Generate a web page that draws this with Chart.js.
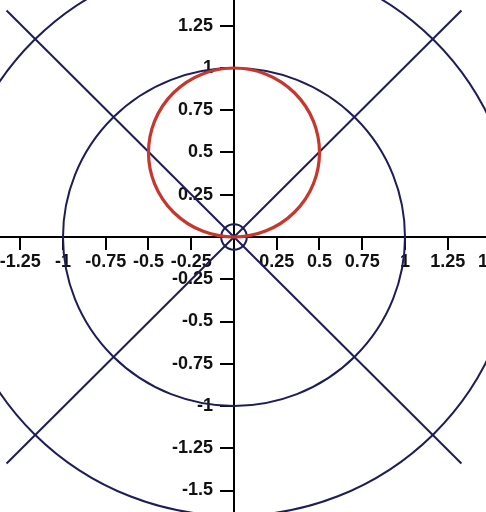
<!DOCTYPE html>
<html>
<head>
<meta charset="utf-8">
<script src="https://cdn.jsdelivr.net/npm/chart.js@4/dist/chart.umd.min.js"></script>
<style>
  html, body { margin: 0; padding: 0; background: #fff; }
  #wrap { position: relative; width: 486px; height: 512px; overflow: hidden; }
  #plot { position: absolute; left: 0; top: -20px; }
</style>
</head>
<body>
<div id="wrap"><canvas id="plot" width="500" height="532"></canvas></div>
<script>
"use strict";

// tick values on both axes (no label at the origin)
var xTicks = [-1.25, -1, -0.75, -0.5, -0.25, 0.25, 0.5, 0.75, 1, 1.25, 1.5];
var yTicks = [-1.5, -1.25, -1, -0.75, -0.5, -0.25, 0.25, 0.5, 0.75, 1, 1.25, 1.5];

// the two diagonals
var diagX = [-1.33, 1.33];
var diagUpY = [-1.34, 1.34];
var diagDownY = [1.34, -1.34];

// circles: centre x, centre y, radius
var circleX = [0, 0, 0, 0];
var circleY = [0, 0, 0, 0.5];
var circleR = [1.65, 1, 0.075, 0.5];

var navy = '#1d1d5a';
var red = '#c8372d';
var circleColors = [navy, navy, navy, red];
var circleWidths = [2, 2, 2, 3.2];

function pts(xs, ys) {
    return xs.map(function (x, i) { return { x: x, y: ys[i] }; });
}

// a y axis sitting at x = 0 puts its labels right on the line, move them left of the tick marks
class CenterYScale extends Chart.LinearScale {
    _computeLabelItems(area) {
        var items = super._computeLabelItems(area);
        var off = this.options.grid.tickLength + this.options.ticks.padding;
        items.forEach(function (it) {
            if (it.options && it.options.translation) it.options.translation[0] -= off;
        });
        return items;
    }
}
CenterYScale.id = 'centerY';
CenterYScale.defaults = Chart.LinearScale.defaults;
Chart.register(CenterYScale);

var circlePlugin = {
    id: 'circles',
    afterDatasetsDraw: function (chart) {
        var c = chart.ctx, xs = chart.scales.x, ys = chart.scales.y;
        c.save();
        circleX.forEach(function (cx, i) {
            var px = xs.getPixelForValue(cx), py = ys.getPixelForValue(circleY[i]);
            var rx = Math.abs(xs.getPixelForValue(cx + circleR[i]) - px);
            var ry = Math.abs(ys.getPixelForValue(circleY[i] + circleR[i]) - py);
            c.beginPath();
            c.ellipse(px, py, rx, ry, 0, 0, Math.PI * 2);
            c.strokeStyle = circleColors[i];
            c.lineWidth = circleWidths[i];
            c.stroke();
        });
        c.restore();
    }
};

var tickFont = { family: '"Liberation Sans", Arial, sans-serif', size: 18, weight: 'bold' };

var ctx = document.getElementById('plot').getContext('2d');

var myChart = new Chart(ctx, {
    type: 'scatter',
    data: {
        datasets: [{
            data: pts(diagX, diagUpY),
            showLine: true,
            borderColor: navy,
            borderWidth: 2,
            pointRadius: 0
        }, {
            data: pts(diagX, diagDownY),
            showLine: true,
            borderColor: navy,
            borderWidth: 2,
            pointRadius: 0
        }]
    },
    options: {
        responsive: false,
        animation: false,
        layout: { padding: 0 },
        plugins: {
            legend: { display: false },
            tooltip: { enabled: false }
        },
        scales: {
            x: {
                type: 'linear',
                min: -1.3684,
                max: 1.5556,
                position: { y: 0 },
                afterBuildTicks: function (s) { s.ticks = xTicks.map(function (v) { return { value: v }; }); },
                afterFit: function (s) { s.paddingLeft = s.paddingRight = 0; },
                border: { display: true, color: '#000', width: 2 },
                grid: { drawOnChartArea: false, drawTicks: true, tickLength: 12, color: '#000', lineWidth: 2 },
                ticks: {
                    autoSkip: false, maxRotation: 0, minRotation: 0, padding: 2,
                    color: '#111', font: tickFont,
                    callback: function (v) { return String(v); }
                }
            },
            y: {
                type: 'centerY',
                min: -1.6272,
                max: 1.5207,
                position: { x: 0 },
                afterBuildTicks: function (s) { s.ticks = yTicks.map(function (v) { return { value: v }; }); },
                afterFit: function (s) { s.paddingTop = s.paddingBottom = 0; },
                border: { display: true, color: '#000', width: 2 },
                grid: { drawOnChartArea: false, drawTicks: true, tickLength: 13, color: '#000', lineWidth: 2 },
                ticks: {
                    autoSkip: false, padding: 8,
                    color: '#111', font: tickFont,
                    callback: function (v) { return String(v); }
                }
            }
        }
    },
    plugins: [circlePlugin]
});
</script>
</body>
</html>
